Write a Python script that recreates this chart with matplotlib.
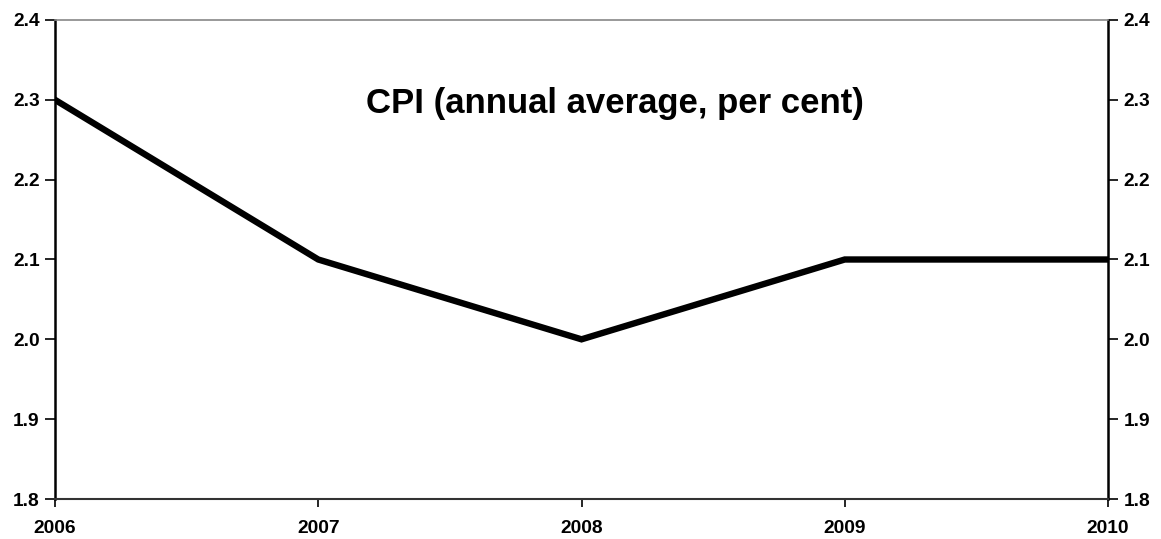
import matplotlib.pyplot as plt

plt.rcParams['font.family'] = ['Liberation Sans', 'DejaVu Sans']

years = [2006, 2007, 2008, 2009, 2010]
cpi = [2.3, 2.1, 2.0, 2.1, 2.1]
yticks = [1.8, 1.9, 2.0, 2.1, 2.2, 2.3, 2.4]

fig = plt.figure(figsize=(11.61, 5.39), dpi=100)
ax = fig.add_axes([55 / 1161, 40 / 539, 1053 / 1161, 479 / 539])

ax.plot(years, cpi, color='black', linewidth=4.6, solid_joinstyle='miter')

ax.set_xlim(2006, 2010)
ax.set_ylim(1.8, 2.4)
ax.set_xticks(years)
ax.set_xticklabels([str(y) for y in years], fontsize=13.8, fontweight='bold')
ax.set_yticks(yticks)
ax.set_yticklabels(['%.1f' % v for v in yticks], fontsize=13.8, fontweight='bold')

ax.tick_params(axis='y', direction='out', length=7, width=1.2, left=True, right=True,
               labelleft=True, labelright=True, pad=4)
ax.tick_params(axis='x', direction='out', length=6, width=1.2, pad=9)

ax.spines['top'].set_color('#888888')
ax.spines['top'].set_linewidth(1.2)
ax.spines['bottom'].set_color('#333333')
ax.spines['bottom'].set_linewidth(1.5)
ax.spines['left'].set_linewidth(1.8)
ax.spines['right'].set_linewidth(1.8)

ax.text(0.532, 0.826, 'CPI (annual average, per cent)', transform=ax.transAxes,
        ha='center', va='center', fontsize=25, fontweight='bold')

fig.savefig('out.png', dpi=100)
